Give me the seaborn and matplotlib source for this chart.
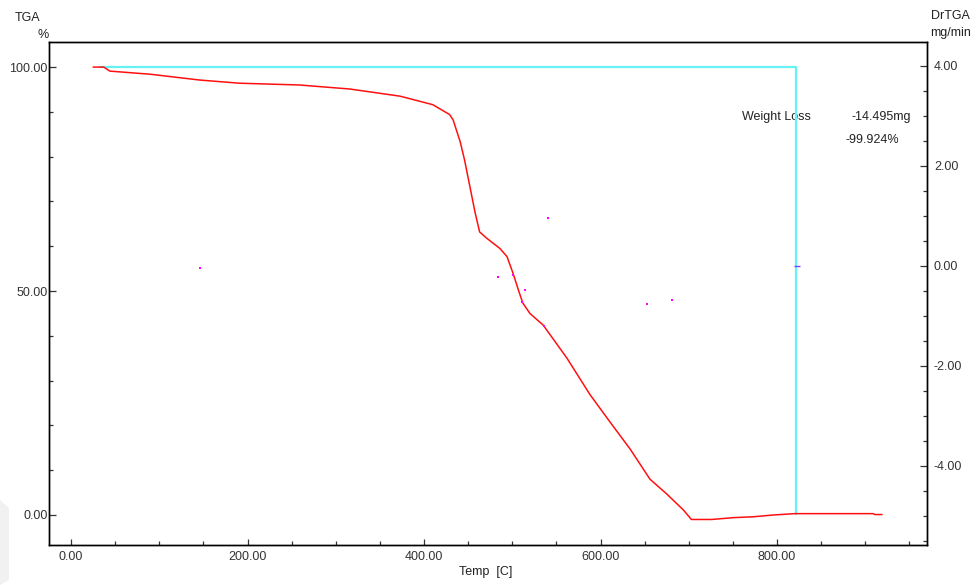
import matplotlib
matplotlib.use("Agg")
import matplotlib.pyplot as plt
from matplotlib.patches import Polygon
from matplotlib.ticker import MultipleLocator, FormatStrFormatter
import seaborn as sns
import pandas as pd

# TGA curve: temperature [C] and remaining mass [%]
temp = [25, 37, 44, 90, 146, 191, 259, 316, 373, 410, 429, 433, 441, 446, 452,
        458, 463, 471, 486, 494, 501, 507, 512, 520, 535, 550, 562, 588, 611,
        634, 656, 675, 694, 703, 726, 750, 773, 796, 820, 909, 911, 919]
tga = [100.0, 100.0, 99.1, 98.4, 97.1, 96.4, 96.0, 95.1, 93.5, 91.6, 89.4, 88.2,
       83.3, 79.2, 73.3, 67.4, 63.2, 61.8, 59.5, 57.7, 53.9, 50.2, 47.3, 45.0,
       42.4, 38.3, 35.0, 26.9, 20.7, 14.6, 8.0, 4.7, 1.1, -1.0, -1.0,
       -0.6, -0.4, 0.0, 0.3, 0.3, 0.1, 0.1]

# Weight-loss bracket (start temp, end temp, start %, end %)
wl_temp = [33, 822, 822]
wl_pct = [100.0, 100.0, 0.3]

# Sparse DrTGA samples [mg/min]
dr_temp = [146, 484, 501, 511, 514, 536, 540, 653, 681]
dr_val = [-0.04, -0.22, -0.17, -0.71, -0.48, -1.20, 0.96, -0.76, -0.68]
dr_mark_temp = [823]
dr_mark_val = [0.0]

x_ticks = [0, 200, 400, 600, 800]
left_ticks = [0, 50, 100]
right_ticks = [-4, -2, 0, 2, 4]

weight_loss_mg = "-14.495mg"
weight_loss_pct = "-99.924%"

sns.set_style("ticks")
plt.rcParams["font.family"] = ["Liberation Sans", "DejaVu Sans"]
plt.rcParams["font.size"] = 9

W, H = 976, 585
fig = plt.figure(figsize=(W / 100, H / 100), dpi=100)
ax = fig.add_axes([49 / W, 1 - 545 / H, (927 - 49) / W, (545 - 42) / H])
ax2 = ax.twinx()

df_tga = pd.DataFrame({"temp": temp, "tga": tga})
df_wl = pd.DataFrame({"temp": wl_temp, "pct": wl_pct})
df_dr = pd.DataFrame({"temp": dr_temp, "dr": dr_val})
df_mark = pd.DataFrame({"temp": dr_mark_temp, "dr": dr_mark_val})

sns.lineplot(data=df_wl, x="temp", y="pct", sort=False, estimator=None,
             color="#66F2F2", linewidth=1.6, ax=ax, zorder=3)
sns.lineplot(data=df_tga, x="temp", y="tga", sort=False, estimator=None,
             color="#FF1010", linewidth=1.1, ax=ax, zorder=4)
sns.scatterplot(data=df_dr, x="temp", y="dr", color="#FF00FF", s=4,
                marker="s", linewidth=0, ax=ax2, zorder=5)
sns.scatterplot(data=df_mark, x="temp", y="dr", color="#8040FF", s=25,
                marker="_", linewidth=1.0, ax=ax2, zorder=5)

ax.set_xlim(-25, 970)
ax.set_ylim(-6.7, 105.6)
ax2.set_ylim(-5.58, 4.48)

ax.set_xticks(x_ticks)
ax.xaxis.set_minor_locator(MultipleLocator(50))
ax.set_yticks(left_ticks)
ax.yaxis.set_minor_locator(MultipleLocator(10))
ax2.set_yticks(right_ticks)
ax2.yaxis.set_minor_locator(MultipleLocator(0.5))
for a in (ax, ax2):
    a.xaxis.set_major_formatter(FormatStrFormatter("%.2f"))
    a.yaxis.set_major_formatter(FormatStrFormatter("%.2f"))

ax.tick_params(axis="x", which="major", direction="in", length=4, width=0.9,
               pad=4, labelsize=9, colors="#333333", labelcolor="#333333")
ax.tick_params(axis="x", which="minor", direction="in", length=3, width=0.9,
               colors="#333333")
ax.tick_params(axis="y", which="major", direction="in", length=5, width=0.9,
               pad=1, labelsize=9, colors="#333333", labelcolor="#333333")
ax.tick_params(axis="y", which="minor", direction="in", length=3, width=0.9,
               colors="#333333")
ax2.tick_params(axis="y", which="major", direction="in", length=5, width=0.9,
                pad=5, labelsize=9, colors="#333333", labelcolor="#333333")
ax2.tick_params(axis="y", which="minor", direction="in", length=3, width=0.9,
                colors="#333333")

ax.set_xlabel("")
ax.set_ylabel("")
ax2.set_ylabel("")
for a in (ax, ax2):
    for s in a.spines.values():
        s.set_visible(True)
        s.set_color("black")
        s.set_linewidth(1.0)


def px(x, y):
    return x / W, 1 - y / H


# Axis titles
fig.text(*px(28, 18), "TGA", ha="center", va="center", fontsize=9, color="#222222")
fig.text(*px(43, 35), "%", ha="center", va="center", fontsize=9, color="#222222")
fig.text(*px(950, 16), "DrTGA", ha="center", va="center", fontsize=9, color="#222222")
fig.text(*px(951, 33), "mg/min", ha="center", va="center", fontsize=9, color="#222222")
fig.text(*px(486, 572), "Temp  [C]", ha="center", va="center", fontsize=9, color="#222222")


# Weight-loss annotation
def ax_coords(x, y):
    return ax.transAxes.inverted().transform(fig.transFigure.transform(px(x, y)))


ax.text(*ax_coords(742, 117), "Weight Loss", transform=ax.transAxes,
        ha="left", va="center", fontsize=9, color="#222222", zorder=1)
ax.text(*ax_coords(851, 117), weight_loss_mg, transform=ax.transAxes,
        ha="left", va="center", fontsize=9, color="#222222", zorder=1)
ax.text(*ax_coords(846, 140), weight_loss_pct, transform=ax.transAxes,
        ha="left", va="center", fontsize=9, color="#222222", zorder=1)

# Faint grey mark at the lower-left edge
fig.patches.append(Polygon([px(0, 500), px(9, 508), px(9, 580), px(0, 585)],
                           closed=True, transform=fig.transFigure,
                           facecolor="#f1f1f1", edgecolor="none"))

fig.savefig("out.png", dpi=100)
